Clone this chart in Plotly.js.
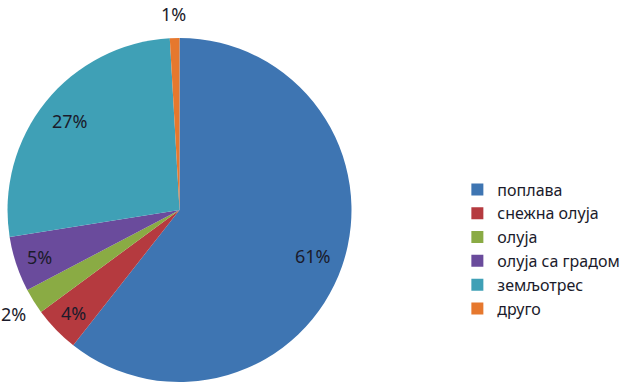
<!DOCTYPE html>
<html>
<head>
<meta charset="utf-8">
<script src="https://cdn.plot.ly/plotly-3.0.1.min.js"></script>
<style>html,body{margin:0;padding:0;background:#fff;}#chart{width:637px;height:386px;}</style>
</head>
<body>
<div id="chart"></div>
<script>
const categories = ["поплава", "снежна олуја", "олуја", "олуја са градом", "земљотрес", "друго"];
const values = [60.6, 4.3, 2.4, 5.2, 26.6, 0.9];
const colors = ["#3E75B2", "#B53A3F", "#8AAB44", "#6A4B9C", "#3FA0B6", "#E6782E"];
const labelInside = [true, true, false, true, true, false];

const W = 637, H = 386;
const domainX = [0.0118, 0.5518], domainY = [0.0104, 0.9016];
const fontFam = "Noto Sans, sans-serif";
const txtColor = "#1b1b2b";

const trace = {
  type: "pie",
  labels: categories,
  values: values,
  sort: false,
  direction: "clockwise",
  rotation: 0,
  marker: {colors: colors, line: {color: "#ffffff", width: 0}},
  textinfo: "none",
  automargin: false,
  domain: {x: domainX, y: domainY},
  hoverinfo: "label+percent"
};

// percent labels placed from the slice angles and the pie geometry
const cxPx = (domainX[0] + domainX[1]) / 2 * W;
const cyPx = (1 - (domainY[0] + domainY[1]) / 2) * H;
const rPx = Math.min((domainX[1] - domainX[0]) * W, (domainY[1] - domainY[0]) * H) / 2;
const total = values.reduce((a, b) => a + b, 0);
const annotations = [];
let cum = 0;
values.forEach((v, i) => {
  const mid = (cum + v / 2) / total * 2 * Math.PI;
  cum += v;
  const f = labelInside[i] ? (v > 20 ? 0.82 : 0.86) : 1.14;
  const px = cxPx + rPx * f * Math.sin(mid);
  const py = cyPx - rPx * f * Math.cos(mid);
  annotations.push({
    xref: "paper", yref: "paper",
    x: px / W, y: 1 - py / H,
    xanchor: "center", yanchor: "middle",
    text: Math.round(v / total * 100) + "%", showarrow: false,
    font: {family: fontFam, size: 18, color: txtColor}
  });
});

const layout = {
  width: W,
  height: H,
  margin: {l: 0, r: 0, t: 0, b: 0},
  paper_bgcolor: "#ffffff",
  showlegend: true,
  legend: {
    x: 0.718, y: 0.553, xanchor: "left", yanchor: "top",
    font: {family: fontFam, size: 16, color: txtColor},
    itemwidth: 30,
    tracegroupgap: 0
  },
  annotations: annotations
};

Plotly.newPlot("chart", [trace], layout, {displayModeBar: false, staticPlot: true});
</script>
</body>
</html>
